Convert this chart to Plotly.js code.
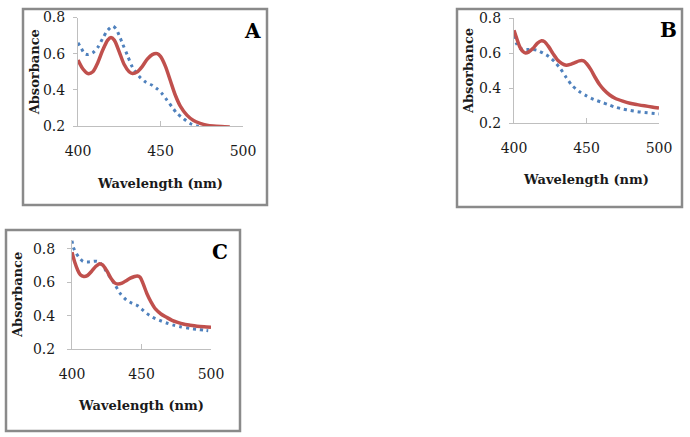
<!DOCTYPE html>
<html>
<head>
<meta charset="utf-8">
<script src="https://cdn.plot.ly/plotly-3.0.1.min.js"></script>
<style>html,body{margin:0;padding:0;background:#fff}#chart{width:690px;height:437px}</style>
</head>
<body>
<div id="chart"></div>
<script>
// Panel A
const wlA_red  = [400,403,406,409,412,415,418,420,422,425,428,431,433,436,439,442,445,448,450,453,456,459,462,466,470,474,478,482,487,492];
const absA_red = [0.565,0.515,0.49,0.50,0.55,0.62,0.675,0.69,0.675,0.61,0.54,0.50,0.49,0.50,0.53,0.57,0.595,0.60,0.585,0.53,0.45,0.37,0.31,0.26,0.23,0.215,0.205,0.20,0.197,0.195];
const wlA_blue  = [400,402,404,406,409,412,415,418,421,423,425,427,430,433,437,441,445,448,451,454,457,460,464,468,472,476];
const absA_blue = [0.66,0.63,0.60,0.595,0.605,0.635,0.685,0.73,0.752,0.738,0.70,0.655,0.59,0.525,0.475,0.443,0.425,0.405,0.378,0.342,0.305,0.27,0.24,0.214,0.20,0.196];
// Panel B
const wlB_red  = [400,402,404,406,408,410,413,416,419,421,424,427,430,433,436,439,442,445,448,450,453,456,459,462,466,470,475,480,485,490,495,500];
const absB_red = [0.73,0.68,0.635,0.61,0.60,0.605,0.625,0.655,0.67,0.665,0.635,0.595,0.56,0.54,0.53,0.535,0.545,0.555,0.555,0.54,0.505,0.46,0.42,0.39,0.36,0.34,0.325,0.313,0.305,0.298,0.292,0.285];
const wlB_blue  = [400,402,404,407,410,413,416,420,424,428,432,436,440,445,450,455,460,465,470,475,480,485,490,495,500];
const absB_blue = [0.70,0.65,0.627,0.62,0.62,0.62,0.615,0.60,0.58,0.55,0.51,0.46,0.415,0.38,0.355,0.335,0.32,0.305,0.29,0.28,0.272,0.265,0.26,0.256,0.252];
// Panel C
const wlC_red  = [400,402,404,406,408.5,411,414,417,420,422,425,428,431,433,436,439,442,445,447,449,451,454,457,460,464,468,472,476,480,485,490,495,500];
const absC_red = [0.78,0.72,0.675,0.645,0.635,0.64,0.665,0.695,0.712,0.705,0.67,0.625,0.595,0.59,0.595,0.61,0.625,0.635,0.638,0.63,0.595,0.53,0.48,0.44,0.41,0.39,0.372,0.36,0.35,0.343,0.337,0.333,0.33];
const wlC_blue  = [400,401,403,405,408,411,414,418,421,424,427,431,434.5,439,443,447,450,454,458,463,468,473,478,485,490,495,498];
const absC_blue = [0.85,0.81,0.775,0.75,0.725,0.722,0.724,0.726,0.71,0.675,0.635,0.585,0.535,0.495,0.475,0.46,0.44,0.412,0.39,0.372,0.356,0.343,0.333,0.323,0.318,0.313,0.31];

const panelLetters = ['A','B','C'];
const xTickVals = [400,450,500];
const yTickVals = [0.2,0.4,0.6,0.8];
const xTitle = 'Wavelength (nm)';
const yTitle = 'Absorbance';

const RED = '#C0504D', BLUE = '#4F81BD';
const W = 690, H = 437;
const px = v => v / W;
const py = v => 1 - v / H;

function red(x, y, n) {
  return {x: x, y: y, xaxis: 'x' + n, yaxis: 'y' + n, mode: 'lines', type: 'scatter',
    line: {color: RED, width: 3.5, shape: 'spline', smoothing: 0.8}, hoverinfo: 'skip', showlegend: false};
}
function blue(x, y, n) {
  return {x: x, y: y, xaxis: 'x' + n, yaxis: 'y' + n, mode: 'lines', type: 'scatter',
    line: {color: BLUE, width: 3, dash: '3px,4px', shape: 'spline', smoothing: 0.8}, hoverinfo: 'skip', showlegend: false};
}
const traces = [
  blue(wlA_blue, absA_blue, ''), red(wlA_red, absA_red, ''),
  blue(wlB_blue, absB_blue, '2'), red(wlB_red, absB_red, '2'),
  blue(wlC_blue, absC_blue, '3'), red(wlC_red, absC_red, '3')
];

const FONT = 'DejaVu Serif, Liberation Serif, serif';
function xax(dom, anchor, labStand, titleStand) {
  return {domain: dom, anchor: anchor, range: [400, 500], tickvals: xTickVals, ticks: 'inside', ticklen: 5,
    tickcolor: '#bfbfbf', showline: true, linecolor: '#bfbfbf', linewidth: 1, showgrid: false, zeroline: false,
    tickfont: {family: FONT, size: 14, color: '#1a1a1a'}, ticklabelstandoff: labStand, automargin: false,
    title: {text: xTitle, standoff: titleStand, font: {family: FONT, size: 13, weight: 'bold', color: '#1a1a1a'}}};
}
function yax(dom, anchor, rng, labStand, titleStand) {
  return {domain: dom, anchor: anchor, range: rng, tickvals: yTickVals, ticktext: yTickVals.map(v => v.toFixed(1)),
    ticks: 'outside', ticklen: 4, tickcolor: '#bfbfbf', showline: true, linecolor: '#bfbfbf', linewidth: 1,
    showgrid: false, zeroline: false, tickfont: {family: FONT, size: 14, color: '#1a1a1a'},
    ticklabelstandoff: labStand, automargin: false,
    title: {text: yTitle, standoff: titleStand, font: {family: FONT, size: 13, weight: 'bold', color: '#1a1a1a'}}};
}

function frame(x0, y0, x1, y1) {
  return {type: 'rect', xref: 'paper', yref: 'paper', x0: px(x0), x1: px(x1), y0: py(y1), y1: py(y0),
    line: {color: '#8a8a8a', width: 2.5}, fillcolor: 'rgba(0,0,0,0)', layer: 'below'};
}
function letter(t, x, y) {
  return {text: t, xref: 'paper', yref: 'paper', x: px(x), y: py(y), xanchor: 'center', yanchor: 'middle',
    showarrow: false, font: {family: FONT, size: 20, weight: 'bold', color: '#000'}};
}

const layout = {
  width: W, height: H, margin: {l: 0, r: 0, t: 0, b: 0}, paper_bgcolor: '#fff', plot_bgcolor: 'rgba(0,0,0,0)',
  showlegend: false,
  xaxis:  xax([px(78), px(243)], 'y', 12, 21),
  yaxis:  yax([py(126), py(17.5)], 'x', [0.2, 0.8], 5, 0),
  xaxis2: xax([px(514), px(659)], 'y2', 12, 20),
  yaxis2: yax([py(123), py(18)], 'x2', [0.2, 0.8], 5, 2),
  xaxis3: xax([px(72), px(211)], 'y3', 12, 20),
  yaxis3: yax([py(349), py(239.8)], 'x3', [0.2, 0.855], 9, 7),
  shapes: [frame(23, 9, 267, 205), frame(457, 9, 682, 207), frame(6, 230, 240, 431)],
  annotations: [letter(panelLetters[0], 253, 31), letter(panelLetters[1], 668, 30), letter(panelLetters[2], 220, 252)]
};

Plotly.newPlot('chart', traces, layout, {displayModeBar: false, staticPlot: true});
</script>
</body>
</html>
